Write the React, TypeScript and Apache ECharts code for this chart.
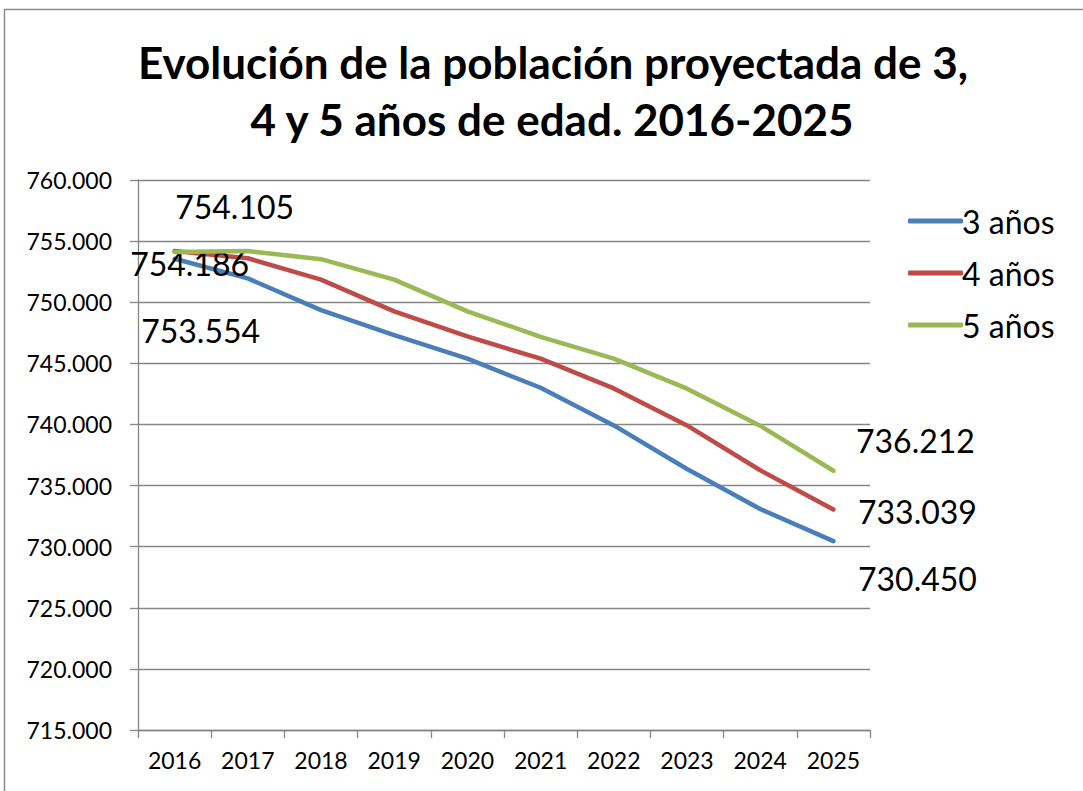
import React, { useEffect, useRef } from "react";
import * as echarts from "echarts";

const years = ["2016", "2017", "2018", "2019", "2020", "2021", "2022", "2023", "2024", "2025"];
const seriesNames = ["3 años", "4 años", "5 años"];
const tres = [753554, 751950, 749350, 747300, 745380, 743000, 739920, 736350, 733080, 730450];
const cuatro = [754186, 753600, 751850, 749250, 747200, 745380, 742950, 739920, 736250, 733039];
const cinco = [754105, 754186, 753520, 751850, 749250, 747170, 745380, 742930, 739900, 736212];
const colors = ["#4a7ebb", "#be4b48", "#98b954"];
const titleLines = ["Evolución de la población proyectada de 3,", "4 y 5 años de edad. 2016-2025"];

const fmt = (v: number) => {
  const s = Math.round(v).toString();
  return s.replace(/\B(?=(\d{3})+(?!\d))/g, ".");
};

const FONT = "Lato, 'Noto Sans', sans-serif";

const labelShifts: [number, number][][] = [
  [[26, 72], [84, 37]],
  [[15, 12], [84, 2]],
  [[60, -46], [82, -30]],
];

function withLabels(values: number[]) {
  return values.map((v, i) => {
    if (i === 0 || i === values.length - 1) {
      return {
        value: v,
        label: {
          show: true,
          position: "inside",
          formatter: (p: any) => fmt(p.value),
          fontSize: 32,
          fontFamily: FONT,
          color: "#000",
          align: "center",
          verticalAlign: "middle",
        },
      };
    }
    return v;
  });
}

export default function App() {
  const ref = useRef<HTMLDivElement>(null);
  useEffect(() => {
    document.body.style.margin = "0";
    if (!ref.current) return;
    const chart = echarts.init(ref.current, undefined, { renderer: "svg" });
    const data = [withLabels(tres), withLabels(cuatro), withLabels(cinco)];
    chart.setOption({
      animation: false,
      backgroundColor: "#fff",
      color: colors,
      graphic: [
        {
          type: "rect",
          shape: { x: 4.5, y: 9.5, width: 1200, height: 900 },
          style: { fill: "none", stroke: "#8c8c8c", lineWidth: 1.5 },
          silent: true,
        },
        {
          type: "text",
          x: 553,
          y: 62,
          style: {
            text: titleLines[0],
            font: `bold 44px ${FONT}`,
            fill: "#000",
            align: "center",
            verticalAlign: "middle",
          },
        },
        {
          type: "text",
          x: 552,
          y: 119,
          style: {
            text: titleLines[1],
            font: `bold 44px ${FONT}`,
            fill: "#000",
            align: "center",
            verticalAlign: "middle",
          },
        },
      ],
      legend: {
        orient: "vertical",
        left: 903,
        top: 200,
        icon: "roundRect",
        itemWidth: 55,
        itemHeight: 5,
        itemGap: 20,
        textStyle: { fontSize: 32, fontFamily: FONT, color: "#000", padding: [0, 0, 0, -6] },
        data: seriesNames,
      },
      grid: { left: 138, right: 213, top: 180, bottom: 61, containLabel: false },
      xAxis: {
        type: "category",
        data: years,
        boundaryGap: true,
        axisLine: { lineStyle: { color: "#868686", width: 1.3 } },
        axisTick: { show: true, length: 8, alignWithLabel: false, lineStyle: { color: "#868686", width: 1.3 } },
        axisLabel: { color: "#000", fontSize: 23, fontFamily: FONT, margin: 18, interval: 0 },
        splitLine: { show: false },
      },
      yAxis: {
        type: "value",
        min: 715000,
        max: 760000,
        interval: 5000,
        axisLine: { show: true, lineStyle: { color: "#868686", width: 1.3 } },
        axisTick: { show: true, length: 8, lineStyle: { color: "#868686", width: 1.3 } },
        axisLabel: { color: "#000", fontSize: 23, fontFamily: FONT, margin: 26, formatter: (v: number) => fmt(v) },
        splitLine: { show: true, lineStyle: { color: "#868686", width: 1.3 } },
      },
      series: seriesNames.map((name, i) => ({
        name,
        type: "line",
        data: data[i],
        symbol: "circle",
        symbolSize: 0.01,
        showSymbol: true,
        lineStyle: { width: 4.5, color: colors[i], cap: "round", join: "round" },
        itemStyle: { color: colors[i] },
        z: 2 + i,
        labelLayout: (p: any) => {
          const s = labelShifts[i][p.dataIndex === 0 ? 0 : 1];
          return { dx: s[0], dy: s[1], hideOverlap: false };
        },
      })),
    });
    return () => chart.dispose();
  }, []);
  return <div ref={ref} style={{ width: 1083, height: 791 }} />;
}
